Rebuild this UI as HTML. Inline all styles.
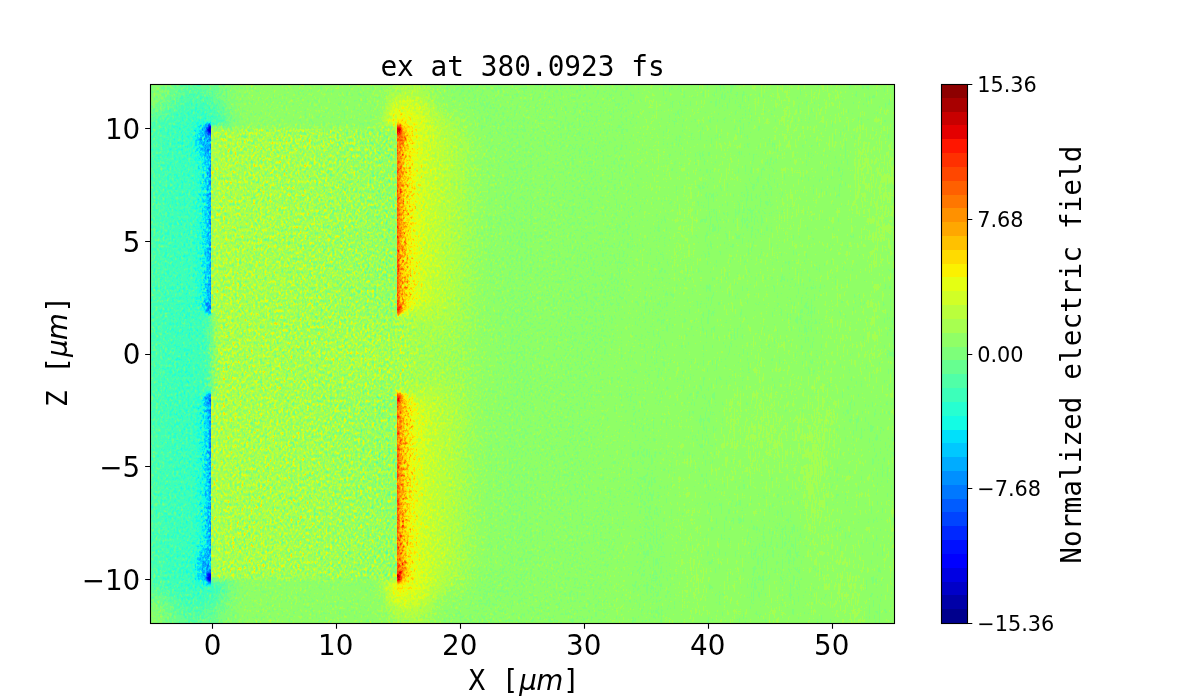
<!DOCTYPE html>
<html lang="en"><head><meta charset="utf-8"><title>ex at 380.0923 fs</title>
<style>
html,body{margin:0;padding:0;background:#fff;width:1200px;height:700px;overflow:hidden}
svg{display:block;position:absolute;left:0;top:0}
.s{font-family:"DejaVu Sans","Liberation Sans",sans-serif;fill:#000}
.m{font-family:"DejaVu Sans Mono","Liberation Mono",monospace;fill:#000}
.i{font-family:"DejaVu Sans","Liberation Sans",sans-serif;font-style:italic}
.l{stroke:#000;stroke-width:1.11;fill:none}
</style></head><body>
<svg width="1200" height="700" viewBox="0 0 1200 700">
<rect width="1200" height="700" fill="#fff"/>
<defs>
<filter id="jet" x="150" y="84" width="745" height="540" filterUnits="userSpaceOnUse" color-interpolation-filters="sRGB">
<feColorMatrix in="SourceGraphic" values="1 0 0 0 0 1 0 0 0 0 1 0 0 0 0 0 0 0 0 1" result="V"/>
<feColorMatrix in="SourceGraphic" values="0 1 0 0 0 0 1 0 0 0 0 1 0 0 0 0 0 0 0 1" result="A1"/>
<feColorMatrix in="SourceGraphic" values="0 0 1 0 0 0 0 1 0 0 0 0 1 0 0 0 0 0 0 1" result="A2"/>
<feTurbulence type="fractalNoise" baseFrequency="0.43 0.31" numOctaves="2" seed="7" result="t1"/>
<feColorMatrix in="t1" values="1 1 1 0 -1 1 1 1 0 -1 1 1 1 0 -1 0 0 0 0 1" result="N0"/>
<feComponentTransfer in="N0" result="N1"><feFuncR type="table" tableValues="0.185 0.248 0.311 0.374 0.437 0.5 0.585 0.67 0.755 0.85 1"/><feFuncG type="table" tableValues="0.185 0.248 0.311 0.374 0.437 0.5 0.585 0.67 0.755 0.85 1"/><feFuncB type="table" tableValues="0.185 0.248 0.311 0.374 0.437 0.5 0.585 0.67 0.755 0.85 1"/></feComponentTransfer>
<feTurbulence type="fractalNoise" baseFrequency="0.62 0.12" numOctaves="1" seed="11" result="t2"/>
<feColorMatrix in="t2" values="1 1 0 0 -0.5 1 1 0 0 -0.5 1 1 0 0 -0.5 0 0 0 0 1" result="N2s"/>
<feTurbulence type="fractalNoise" baseFrequency="0.03 0.008" numOctaves="2" seed="5" result="t3"/>
<feColorMatrix in="t3" values="0.8 0 0 0 0.1 0.8 0 0 0 0.1 0.8 0 0 0 0.1 0 0 0 0 1" result="N2l"/>
<feComposite in="N2s" in2="N2l" operator="arithmetic" k1="0" k2="1" k3="1" k4="-0.5" result="N2"/>
<feComposite in="A1" in2="N1" operator="arithmetic" k1="1" k2="-0.5" k3="0" k4="0.5" result="T1"/>
<feComposite in="A2" in2="N2" operator="arithmetic" k1="1" k2="-0.5" k3="0" k4="0.5" result="T2"/>
<feComposite in="V" in2="T1" operator="arithmetic" k1="0" k2="1" k3="1" k4="-0.5" result="S1"/>
<feComposite in="S1" in2="T2" operator="arithmetic" k1="0" k2="1" k3="1" k4="-0.5" result="S2"/>
<feComponentTransfer in="S2">
<feFuncR type="discrete" tableValues="0.0000 0.0000 0.0000 0.0000 0.0000 0.0000 0.0000 0.0000 0.0000 0.0000 0.0000 0.0000 0.0000 0.0000 0.0745 0.1490 0.2353 0.3137 0.4000 0.4902 0.5647 0.6549 0.7294 0.8196 0.8941 0.9843 1.0000 1.0000 1.0000 1.0000 1.0000 1.0000 1.0000 1.0000 1.0000 0.8941 0.7843 0.6588 0.5529"/>
<feFuncG type="discrete" tableValues="0.0000 0.0000 0.0000 0.0000 0.0000 0.0627 0.1569 0.2667 0.3608 0.4706 0.5647 0.6745 0.7843 0.8784 0.9882 1.0000 1.0000 1.0000 1.0000 1.0000 1.0000 1.0000 1.0000 1.0000 1.0000 0.9451 0.8588 0.7569 0.6549 0.5686 0.4667 0.3765 0.2784 0.1882 0.0863 0.0000 0.0000 0.0000 0.0000"/>
<feFuncB type="discrete" tableValues="0.5529 0.6588 0.7843 0.8902 1.0000 1.0000 1.0000 1.0000 1.0000 1.0000 1.0000 1.0000 1.0000 0.9843 0.8941 0.8196 0.7294 0.6549 0.5647 0.4784 0.4000 0.3137 0.2353 0.1490 0.0745 0.0000 0.0000 0.0000 0.0000 0.0000 0.0000 0.0000 0.0000 0.0000 0.0000 0.0000 0.0000 0.0000 0.0000"/>
</feComponentTransfer>
</filter>
<linearGradient id="g0" gradientUnits="userSpaceOnUse" x1="410.4" x2="832.0" y1="0" y2="0"><stop offset="0" stop-color="#841400"/><stop offset="0.118" stop-color="#831400"/><stop offset="0.353" stop-color="#831200"/><stop offset="0.53" stop-color="#840c08"/><stop offset="0.706" stop-color="#85060d"/><stop offset="1" stop-color="#86060d"/></linearGradient>
<linearGradient id="gB" gradientUnits="userSpaceOnUse" x1="211.0" x2="397.0" y1="0" y2="0"><stop offset="0" stop-color="#8c3d00"/><stop offset="0.5" stop-color="#8a3d00"/><stop offset="0.85" stop-color="#873d00"/><stop offset="1" stop-color="#853d00"/></linearGradient>
<linearGradient id="gLh" gradientUnits="userSpaceOnUse" x1="150.0" x2="211.0" y1="0" y2="0"><stop offset="0" stop-color="#712100" stop-opacity="0.9"/><stop offset="0.45" stop-color="#6a2100" stop-opacity="1"/><stop offset="0.8" stop-color="#642100" stop-opacity="1"/><stop offset="1" stop-color="#632100" stop-opacity="1"/></linearGradient>
<linearGradient id="gL" gradientUnits="userSpaceOnUse" x1="211.0" x2="195.0" y1="0" y2="0"><stop offset="0" stop-color="#423500" stop-opacity="1"/><stop offset="0.1" stop-color="#4e3500" stop-opacity="1"/><stop offset="0.3" stop-color="#573500" stop-opacity="0.95"/><stop offset="0.55" stop-color="#5d3500" stop-opacity="0.65"/><stop offset="0.8" stop-color="#622b00" stop-opacity="0.3"/><stop offset="1" stop-color="#652400" stop-opacity="0"/></linearGradient>
<linearGradient id="gR" gradientUnits="userSpaceOnUse" x1="397.0" x2="423.0" y1="0" y2="0"><stop offset="0" stop-color="#ce3500" stop-opacity="1"/><stop offset="0.06" stop-color="#c53500" stop-opacity="1"/><stop offset="0.15" stop-color="#ba4200" stop-opacity="1"/><stop offset="0.3" stop-color="#b04900" stop-opacity="0.9"/><stop offset="0.5" stop-color="#aa4200" stop-opacity="0.55"/><stop offset="0.75" stop-color="#a63200" stop-opacity="0.22"/><stop offset="1" stop-color="#a42800" stop-opacity="0"/></linearGradient>
<linearGradient id="gRy" gradientUnits="userSpaceOnUse" x1="397.0" x2="441.0" y1="0" y2="0"><stop offset="0" stop-color="#a53200" stop-opacity="1"/><stop offset="0.22" stop-color="#a12e00" stop-opacity="1"/><stop offset="0.42" stop-color="#9c2800" stop-opacity="0.9"/><stop offset="0.7" stop-color="#972100" stop-opacity="0.5"/><stop offset="1" stop-color="#931b00" stop-opacity="0"/></linearGradient>
<linearGradient id="gRg" gradientUnits="userSpaceOnUse" x1="397.0" x2="483.0" y1="0" y2="0"><stop offset="0" stop-color="#942100" stop-opacity="1"/><stop offset="0.36" stop-color="#942100" stop-opacity="1"/><stop offset="0.58" stop-color="#901e00" stop-opacity="1"/><stop offset="0.81" stop-color="#891700" stop-opacity="0.8"/><stop offset="1" stop-color="#861400" stop-opacity="0"/></linearGradient>
<linearGradient id="gRc" gradientUnits="userSpaceOnUse" x1="397.0" x2="507.0" y1="0" y2="0"><stop offset="0" stop-color="#8c1e00" stop-opacity="1"/><stop offset="0.6" stop-color="#8a1b00" stop-opacity="0.9"/><stop offset="1" stop-color="#841400" stop-opacity="0"/></linearGradient>
<linearGradient id="gGapR" gradientUnits="userSpaceOnUse" x1="394.0" x2="427.0" y1="0" y2="0"><stop offset="0" stop-color="#8a3d00" stop-opacity="1"/><stop offset="0.3" stop-color="#8c3d00" stop-opacity="0.9"/><stop offset="1" stop-color="#8a2100" stop-opacity="0"/></linearGradient>
<linearGradient id="gGapL" gradientUnits="userSpaceOnUse" x1="204.0" x2="220.0" y1="0" y2="0"><stop offset="0" stop-color="#6b2100" stop-opacity="1"/><stop offset="0.4" stop-color="#752800" stop-opacity="0.8"/><stop offset="1" stop-color="#883c00" stop-opacity="0"/></linearGradient>
<clipPath id="cAll"><rect x="150" y="84" width="745" height="540"/></clipPath>
<clipPath id="cLh"><rect x="100" y="0" width="111.0" height="700"/></clipPath>
<clipPath id="cRh"><rect x="397.0" y="0" width="600" height="700"/></clipPath>
<clipPath id="cBs"><rect x="211.0" y="116.0" width="12" height="196.9"/><rect x="211.0" y="394.1" width="12" height="196.9"/><rect x="385.0" y="116.0" width="12" height="196.9"/><rect x="385.0" y="394.1" width="12" height="196.9"/></clipPath>
<filter id="b17_17" x="0" y="0" width="1200" height="700" filterUnits="userSpaceOnUse" color-interpolation-filters="sRGB"><feGaussianBlur stdDeviation="17 17"/></filter>
<filter id="b9_9" x="0" y="0" width="1200" height="700" filterUnits="userSpaceOnUse" color-interpolation-filters="sRGB"><feGaussianBlur stdDeviation="9 9"/></filter>
<filter id="b13_13" x="0" y="0" width="1200" height="700" filterUnits="userSpaceOnUse" color-interpolation-filters="sRGB"><feGaussianBlur stdDeviation="13 13"/></filter>
<filter id="b14_14" x="0" y="0" width="1200" height="700" filterUnits="userSpaceOnUse" color-interpolation-filters="sRGB"><feGaussianBlur stdDeviation="14 14"/></filter>
<filter id="b6_14" x="0" y="0" width="1200" height="700" filterUnits="userSpaceOnUse" color-interpolation-filters="sRGB"><feGaussianBlur stdDeviation="6 14"/></filter>
<filter id="b5_9" x="0" y="0" width="1200" height="700" filterUnits="userSpaceOnUse" color-interpolation-filters="sRGB"><feGaussianBlur stdDeviation="5 9"/></filter>
<filter id="b3p5_3" x="0" y="0" width="1200" height="700" filterUnits="userSpaceOnUse" color-interpolation-filters="sRGB"><feGaussianBlur stdDeviation="3.5 3"/></filter>
<filter id="b0_3" x="0" y="0" width="1200" height="700" filterUnits="userSpaceOnUse" color-interpolation-filters="sRGB"><feGaussianBlur stdDeviation="0 3"/></filter>
<filter id="b12_12" x="0" y="0" width="1200" height="700" filterUnits="userSpaceOnUse" color-interpolation-filters="sRGB"><feGaussianBlur stdDeviation="12 12"/></filter>
<filter id="b0_4" x="0" y="0" width="1200" height="700" filterUnits="userSpaceOnUse" color-interpolation-filters="sRGB"><feGaussianBlur stdDeviation="0 4"/></filter>
<filter id="b3_2" x="0" y="0" width="1200" height="700" filterUnits="userSpaceOnUse" color-interpolation-filters="sRGB"><feGaussianBlur stdDeviation="3 2"/></filter>
<filter id="b1p0_2p5" x="0" y="0" width="1200" height="700" filterUnits="userSpaceOnUse" color-interpolation-filters="sRGB"><feGaussianBlur stdDeviation="1 2.5"/></filter>
<filter id="b4_4" x="0" y="0" width="1200" height="700" filterUnits="userSpaceOnUse" color-interpolation-filters="sRGB"><feGaussianBlur stdDeviation="4 4"/></filter>
<filter id="b1p5_1p5" x="0" y="0" width="1200" height="700" filterUnits="userSpaceOnUse" color-interpolation-filters="sRGB"><feGaussianBlur stdDeviation="1.5 1.5"/></filter>
<filter id="b2_2" x="0" y="0" width="1200" height="700" filterUnits="userSpaceOnUse" color-interpolation-filters="sRGB"><feGaussianBlur stdDeviation="2 2"/></filter>
<filter id="b3p5_3p5" x="0" y="0" width="1200" height="700" filterUnits="userSpaceOnUse" color-interpolation-filters="sRGB"><feGaussianBlur stdDeviation="3.5 3.5"/></filter>
<filter id="b3_3" x="0" y="0" width="1200" height="700" filterUnits="userSpaceOnUse" color-interpolation-filters="sRGB"><feGaussianBlur stdDeviation="3 3"/></filter>
</defs>
<rect x="150" y="84" width="745" height="540" fill="#90ff66"/>
<g filter="url(#jet)">
<g clip-path="url(#cAll)">
<rect x="140.0" y="74.0" width="765.0" height="560.0" fill="url(#g0)" />
<rect x="80.0" y="104.0" width="131.0" height="499.0" fill="url(#gLh)" filter="url(#b17_17)"/>
<ellipse cx="150.0" cy="84.0" rx="30.0" ry="24.0" fill="#841700" filter="url(#b9_9)" opacity="0.85"/>
<ellipse cx="150.0" cy="624.0" rx="30.0" ry="24.0" fill="#841700" filter="url(#b9_9)" opacity="0.85"/>
<rect x="169.0" y="30.0" width="48.0" height="650.0" fill="#6a1e00" filter="url(#b13_13)" opacity="0.55"/>
<rect x="391.0" y="30.0" width="40.0" height="272.9" fill="#971700" filter="url(#b13_13)" opacity="0.55"/>
<rect x="391.0" y="404.1" width="40.0" height="275.9" fill="#971700" filter="url(#b13_13)" opacity="0.55"/>
<rect x="391.0" y="134.0" width="120.0" height="439.0" fill="url(#gRc)" filter="url(#b14_14)"/>
<rect x="391.0" y="116.0" width="96.0" height="200.9" fill="url(#gRg)" filter="url(#b6_14)"/>
<rect x="391.0" y="390.1" width="96.0" height="200.9" fill="url(#gRg)" filter="url(#b6_14)"/>
<rect x="391.0" y="106.0" width="52.0" height="201.9" fill="url(#gRy)" filter="url(#b5_9)"/>
<rect x="391.0" y="399.1" width="52.0" height="201.9" fill="url(#gRy)" filter="url(#b5_9)"/>
<ellipse cx="203.0" cy="128.0" rx="22.0" ry="26.0" fill="#672100" filter="url(#b9_9)" opacity="0.7"/>
<ellipse cx="407.0" cy="128.0" rx="22.0" ry="26.0" fill="#9b1b00" filter="url(#b9_9)" opacity="0.7"/>
<ellipse cx="203.0" cy="579.0" rx="22.0" ry="26.0" fill="#672100" filter="url(#b9_9)" opacity="0.7"/>
<ellipse cx="407.0" cy="579.0" rx="22.0" ry="26.0" fill="#9b1b00" filter="url(#b9_9)" opacity="0.7"/>
<rect x="211.0" y="128.0" width="186.0" height="451.0" fill="url(#gB)" filter="url(#b3p5_3)"/>
<g clip-path="url(#cBs)"><rect x="211.0" y="128.0" width="186.0" height="451.0" fill="url(#gB)" filter="url(#b0_3)"/>
</g>
<ellipse cx="369.0" cy="353.5" rx="45.0" ry="34.0" fill="#8f3d00" filter="url(#b12_12)" opacity="0.5"/>
<rect x="204.0" y="315.9" width="16.0" height="75.2" fill="url(#gGapL)" filter="url(#b0_3)"/>
<rect x="394.0" y="315.9" width="33.0" height="75.2" fill="url(#gGapR)" filter="url(#b0_4)"/>
<g clip-path="url(#cLh)">
<rect x="197.0" y="131.0" width="19.0" height="179.9" fill="#632400" filter="url(#b3_2)"/>
<rect x="197.0" y="397.1" width="19.0" height="179.9" fill="#632400" filter="url(#b3_2)"/>
<polygon points="216.0,125.0 193.0,125.0 193.0,299.9 202.9,308.9 207.0,313.9 216.0,313.9" fill="url(#gL)" filter="url(#b1p0_2p5)"/>
<polygon points="216.0,582.0 193.0,582.0 193.0,407.1 202.9,398.1 207.0,393.1 216.0,393.1" fill="url(#gL)" filter="url(#b1p0_2p5)"/>
<ellipse cx="206.0" cy="141.0" rx="8.5" ry="17.0" fill="#473500" filter="url(#b4_4)" opacity="0.75"/>
<ellipse cx="209.5" cy="129.5" rx="2.6" ry="5.5" fill="#142100" filter="url(#b1p5_1p5)"/>
<ellipse cx="206.0" cy="566.0" rx="8.5" ry="17.0" fill="#473500" filter="url(#b4_4)" opacity="0.75"/>
<ellipse cx="209.5" cy="577.5" rx="2.6" ry="5.5" fill="#142100" filter="url(#b1p5_1p5)"/>
<ellipse cx="209.0" cy="306.9" rx="3.0" ry="7.0" fill="#393500" filter="url(#b2_2)" opacity="0.8"/>
<ellipse cx="209.0" cy="400.1" rx="3.0" ry="7.0" fill="#393500" filter="url(#b2_2)" opacity="0.8"/>
</g>
<g clip-path="url(#cRh)">
<polygon points="392.0,125.0 424.0,125.0 424.0,299.9 409.1,308.9 401.0,313.9 392.0,313.9" fill="url(#gR)" filter="url(#b1p0_2p5)"/>
<polygon points="392.0,582.0 424.0,582.0 424.0,407.1 409.1,398.1 401.0,393.1 392.0,393.1" fill="url(#gR)" filter="url(#b1p0_2p5)"/>
<ellipse cx="401.0" cy="123.0" rx="10.0" ry="8.0" fill="#a42800" filter="url(#b3p5_3p5)" opacity="0.8"/>
<ellipse cx="400.0" cy="137.0" rx="5.0" ry="11.0" fill="#ce3500" filter="url(#b3_3)" opacity="0.7"/>
<ellipse cx="398.5" cy="129.5" rx="2.6" ry="5.0" fill="#f02100" filter="url(#b1p5_1p5)"/>
<ellipse cx="401.0" cy="584.0" rx="10.0" ry="8.0" fill="#a42800" filter="url(#b3p5_3p5)" opacity="0.8"/>
<ellipse cx="400.0" cy="570.0" rx="5.0" ry="11.0" fill="#ce3500" filter="url(#b3_3)" opacity="0.7"/>
<ellipse cx="398.5" cy="577.5" rx="2.6" ry="5.0" fill="#f02100" filter="url(#b1p5_1p5)"/>
<ellipse cx="398.5" cy="308.9" rx="2.2" ry="5.0" fill="#e32100" filter="url(#b1p5_1p5)" opacity="0.85"/>
<ellipse cx="398.5" cy="398.1" rx="2.2" ry="5.0" fill="#e32100" filter="url(#b1p5_1p5)" opacity="0.85"/>
</g>
</g>
</g>
<g class="l">
<rect x="150.5" y="84.5" width="744" height="539"/>
<path d="M145.14 128.5H150M145.14 241.5H150M145.14 354.5H150M145.14 466.5H150M145.14 579.5H150M212.5 624V628.86M336.5 624V628.86M460.5 624V628.86M584.5 624V628.86M708.5 624V628.86M832.5 624V628.86"/>
</g>
<g class="s" font-size="27.78" text-anchor="middle">
<text x="212.5" y="655">0</text><text x="335.7" y="655">10</text><text x="459.7" y="655">20</text><text x="583.7" y="655">30</text><text x="707.7" y="655">40</text><text x="831.7" y="655">50</text>
</g>
<g class="s" font-size="27.78" text-anchor="end">
<text x="140.3" y="139.0">10</text><text x="140.3" y="252.0">5</text><text x="140.3" y="364.4">0</text><text x="140.3" y="477.0">−5</text><text x="140.3" y="590.0">−10</text>
</g>
<text class="m" font-size="27.78" x="380.4" y="76" textLength="284.3">ex at 380.0923 fs</text>
<text class="m" font-size="27.78" x="468.4" y="690" xml:space="preserve">X [<tspan class="i" x="519.2">μ</tspan><tspan class="i" x="536.3">m</tspan><tspan x="562.9">]</tspan></text>
<text class="m" font-size="27.78" transform="translate(66.6 407.1) rotate(-90)" xml:space="preserve">Z [<tspan class="i" x="50.1">μ</tspan><tspan class="i" x="66.8">m</tspan><tspan x="94.3">]</tspan></text>
<g shape-rendering="crispEdges">
<rect x="941" y="84" width="27" height="14" fill="#8d0000"/><rect x="941" y="98" width="27" height="14" fill="#a80000"/><rect x="941" y="112" width="27" height="13" fill="#c80000"/><rect x="941" y="125" width="27" height="14" fill="#e40000"/><rect x="941" y="139" width="27" height="14" fill="#ff1600"/><rect x="941" y="153" width="27" height="14" fill="#ff3000"/><rect x="941" y="167" width="27" height="14" fill="#ff4700"/><rect x="941" y="181" width="27" height="14" fill="#ff6000"/><rect x="941" y="195" width="27" height="13" fill="#ff7700"/><rect x="941" y="208" width="27" height="14" fill="#ff9100"/><rect x="941" y="222" width="27" height="14" fill="#ffa700"/><rect x="941" y="236" width="27" height="14" fill="#ffc100"/><rect x="941" y="250" width="27" height="14" fill="#ffdb00"/><rect x="941" y="264" width="27" height="13" fill="#fbf100"/><rect x="941" y="277" width="27" height="14" fill="#e4ff13"/><rect x="941" y="291" width="27" height="14" fill="#d1ff26"/><rect x="941" y="305" width="27" height="14" fill="#baff3c"/><rect x="941" y="319" width="27" height="14" fill="#a7ff50"/><rect x="941" y="333" width="27" height="14" fill="#90ff66"/><rect x="941" y="347" width="27" height="13" fill="#7dff7a"/><rect x="941" y="360" width="27" height="14" fill="#66ff90"/><rect x="941" y="374" width="27" height="14" fill="#50ffa7"/><rect x="941" y="388" width="27" height="14" fill="#3cffba"/><rect x="941" y="402" width="27" height="14" fill="#26ffd1"/><rect x="941" y="416" width="27" height="14" fill="#13fce4"/><rect x="941" y="430" width="27" height="13" fill="#00e0fb"/><rect x="941" y="443" width="27" height="14" fill="#00c8ff"/><rect x="941" y="457" width="27" height="14" fill="#00acff"/><rect x="941" y="471" width="27" height="14" fill="#0090ff"/><rect x="941" y="485" width="27" height="14" fill="#0078ff"/><rect x="941" y="499" width="27" height="13" fill="#005cff"/><rect x="941" y="512" width="27" height="14" fill="#0044ff"/><rect x="941" y="526" width="27" height="14" fill="#0028ff"/><rect x="941" y="540" width="27" height="14" fill="#0010ff"/><rect x="941" y="554" width="27" height="14" fill="#0000ff"/><rect x="941" y="568" width="27" height="14" fill="#0000e3"/><rect x="941" y="582" width="27" height="13" fill="#0000c8"/><rect x="941" y="595" width="27" height="14" fill="#0000a8"/><rect x="941" y="609" width="27" height="15" fill="#00008d"/>
</g>
<g class="l"><rect x="941.5" y="84.5" width="26" height="539"/><path d="M968 84.5H972.3M968 219.5H972.3M968 354.5H972.3M968 488.5H972.3M968 623.5H972.3"/></g>
<g class="s" font-size="20.83">
<text x="977.2" y="92.0">15.36</text><text x="977.2" y="227.0">7.68</text><text x="977.2" y="362.0">0.00</text><text x="977.2" y="496.0">−7.68</text><text x="977.2" y="631.0">−15.36</text>
</g>
<text class="m" font-size="27.78" transform="translate(1081 563.7) rotate(-90)" textLength="418.1">Normalized electric field</text>
</svg>
</body></html>
